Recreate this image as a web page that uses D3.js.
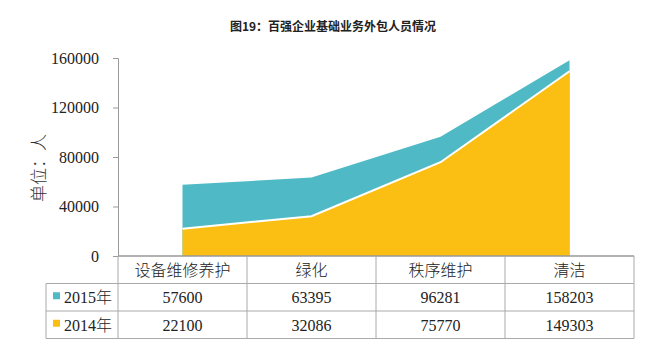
<!DOCTYPE html>
<html lang="en">
<head>
  <meta charset="UTF-8">
  <title>百强企业基础业务外包人员情况</title>
  <script src="https://d3js.org/d3.v7.min.js"></script>
  <style>
    body { margin: 0; background: #fff; }
    svg { display: block; }
    svg text.num { font-family: "Liberation Serif", serif; font-size: 16px; }
  </style>
</head>
<body>
  <div id="chart"></div>
  <script>
    // data
    const categories = ["设备维修养护", "绿化", "秩序维护", "清洁"];
    const seriesNames = ["2015", "2014"];
    const values2015 = [57600, 63395, 96281, 158203];
    const values2014 = [22100, 32086, 75770, 149303];
    const yTicks = [0, 40000, 80000, 120000, 160000];
    const colors = { "2015": "#4fbac5", "2014": "#fbbf14" };

    const width = 669, height = 361;
    const plotLeft = 118, plotRight = 634, plotTop = 58, plotBottom = 256;
    const rowH = 27.5;

    const svg = d3.select("#chart").append("svg")
      .attr("width", width)
      .attr("height", height);

    const x = d3.scaleBand().domain(categories).range([plotLeft, plotRight]);
    const y = d3.scaleLinear().domain([0, 160000]).range([plotBottom, plotTop]);
    const cx = d => x(d) + x.bandwidth() / 2;

    // title
    svg.append("text")
      .attr("x", 333).attr("y", 31)
      .attr("text-anchor", "middle")
      .style("font-family", "'Noto Sans CJK SC'")
      .style("font-weight", "bold")
      .style("font-size", "12px")
      .attr("fill", "#222")
      .text("图19：百强企业基础业务外包人员情况");

    // areas (overlaid, not stacked)
    const area = d3.area()
      .x((d, i) => cx(categories[i]))
      .y0(y(0))
      .y1(d => y(d));

    svg.append("path")
      .datum(values2015)
      .attr("d", area)
      .attr("fill", colors["2015"]);

    svg.append("path")
      .datum(values2014)
      .attr("d", area)
      .attr("fill", colors["2014"]);

    svg.append("path")
      .datum(values2014)
      .attr("d", d3.line().x((d, i) => cx(categories[i])).y(d => y(d)))
      .attr("fill", "none")
      .attr("stroke", "#fff")
      .attr("stroke-width", 2);

    // y axis
    const yAxis = svg.append("g")
      .attr("transform", `translate(${plotLeft},0)`)
      .call(d3.axisLeft(y).tickValues(yTicks).tickSize(5).tickPadding(14).tickFormat(d3.format("d")));
    yAxis.attr("font-family", "Liberation Serif").attr("font-size", 16);
    yAxis.select(".domain").attr("stroke", "#999");
    yAxis.selectAll(".tick line").attr("stroke", "#999");
    yAxis.selectAll("text")
      .attr("class", "num")
      .attr("fill", "#222");

    svg.append("text")
      .attr("transform", "translate(45,168) rotate(-90)")
      .attr("text-anchor", "middle")
      .style("font-family", "'Noto Sans CJK SC'")
      .style("font-size", "17px")
      .style("font-weight", "300")
      .attr("fill", "#333")
      .text("单位：人");

    // data table
    const tbl = svg.append("g");
    const legendLeft = 46;
    const rows = [
      { name: seriesNames[0], vals: values2015 },
      { name: seriesNames[1], vals: values2014 }
    ];
    const lineColor = "#aaa";

    // horizontal lines
    tbl.append("line").attr("x1", plotLeft).attr("x2", plotRight)
      .attr("y1", plotBottom).attr("y2", plotBottom).attr("stroke", "#999").attr("stroke-width", 1.5);
    [1, 2, 3].forEach(r => {
      tbl.append("line")
        .attr("x1", legendLeft).attr("x2", plotRight)
        .attr("y1", plotBottom + r * rowH).attr("y2", plotBottom + r * rowH)
        .attr("stroke", lineColor);
    });
    // vertical lines
    tbl.append("line").attr("x1", legendLeft).attr("x2", legendLeft)
      .attr("y1", plotBottom + rowH).attr("y2", plotBottom + 3 * rowH).attr("stroke", lineColor);
    categories.forEach(c => {
      tbl.append("line").attr("x1", x(c)).attr("x2", x(c))
        .attr("y1", plotBottom).attr("y2", plotBottom + 3 * rowH).attr("stroke", lineColor);
    });
    tbl.append("line").attr("x1", plotRight).attr("x2", plotRight)
      .attr("y1", plotBottom).attr("y2", plotBottom + 3 * rowH).attr("stroke", lineColor);

    // header
    tbl.selectAll(".cat").data(categories).enter().append("text")
      .attr("x", d => cx(d))
      .attr("y", plotBottom + rowH / 2 + 6)
      .attr("text-anchor", "middle")
      .style("font-family", "'Noto Sans CJK SC'")
      .style("font-size", "16px")
      .style("font-weight", "300")
      .attr("fill", "#222")
      .text(d => d);

    rows.forEach((row, r) => {
      const yc = plotBottom + (r + 1) * rowH + rowH / 2;
      tbl.append("rect")
        .attr("x", 53).attr("y", yc - 5)
        .attr("width", 7).attr("height", 7)
        .attr("fill", colors[row.name]);
      const lab = tbl.append("text")
        .attr("x", 64).attr("y", yc + 6)
        .attr("fill", "#222");
      lab.append("tspan").attr("class", "num").text(row.name);
      lab.append("tspan")
        .style("font-family", "'Noto Sans CJK SC'")
        .style("font-size", "16px")
        .style("font-weight", "300")
        .text("年");
      tbl.selectAll(null).data(row.vals).enter().append("text")
        .attr("x", (d, i) => cx(categories[i]))
        .attr("y", yc + 6)
        .attr("text-anchor", "middle")
        .attr("class", "num")
        .attr("fill", "#222")
        .text(d => d);
    });
  </script>
</body>
</html>
